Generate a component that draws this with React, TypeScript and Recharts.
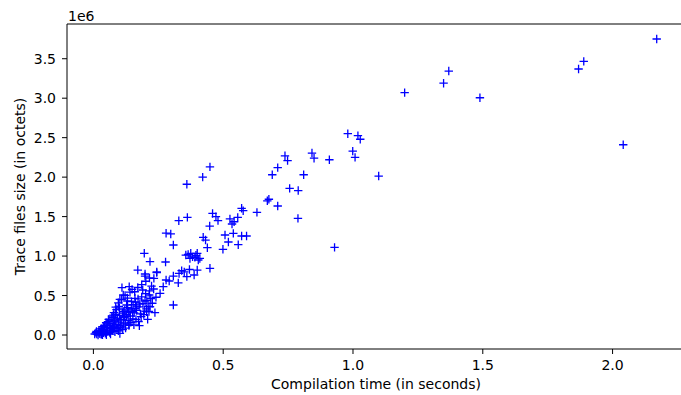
import React from 'react';
import { ScatterChart, Scatter, XAxis, YAxis, ReferenceLine } from 'recharts';

// [compilation time in s, trace size in 1e6 octets]
const upperPoints: [number, number][] = [
  [2.17, 3.75], [1.889, 3.467], [1.869, 3.37], [2.041, 2.41], [1.369, 3.344],
  [1.349, 3.19], [1.199, 3.07], [1.489, 3.006], [0.98, 2.55], [1.019, 2.525],
  [1.028, 2.48], [0.999, 2.33], [1.008, 2.25], [0.909, 2.22], [1.099, 2.014],
  [0.929, 1.11], [0.738, 2.27], [0.748, 2.21], [0.842, 2.305], [0.85, 2.24],
  [0.449, 2.13], [0.421, 2.0], [0.71, 2.12], [0.689, 2.03], [0.81, 2.03],
  [0.756, 1.858], [0.789, 1.83], [0.676, 1.72], [0.67, 1.7], [0.71, 1.634],
  [0.788, 1.478], [0.36, 1.91],
];

const middlePoints: [number, number][] = [
  [0.571, 1.605], [0.577, 1.575], [0.63, 1.554], [0.459, 1.54], [0.472, 1.5],
  [0.48, 1.45], [0.448, 1.38], [0.526, 1.47], [0.542, 1.435], [0.556, 1.49],
  [0.534, 1.406], [0.507, 1.267], [0.539, 1.288], [0.571, 1.254], [0.59, 1.254],
  [0.52, 1.178], [0.558, 1.144], [0.499, 1.086], [0.449, 0.845], [0.423, 1.238],
  [0.432, 1.203], [0.439, 1.106], [0.329, 1.448], [0.362, 1.49], [0.28, 1.29],
  [0.298, 1.28], [0.308, 1.14], [0.196, 1.035], [0.218, 0.93], [0.278, 0.925],
  [0.171, 0.823], [0.199, 0.747], [0.244, 0.8], [0.34, 0.815], [0.308, 0.747],
  [0.356, 1.013], [0.375, 1.035], [0.391, 0.984], [0.4, 1.035], [0.404, 0.95],
  [0.365, 1.02], [0.382, 0.99], [0.395, 1.01], [0.372, 0.97], [0.41, 0.97],
  [0.4, 0.823], [0.388, 0.76], [0.308, 0.38], [0.292, 0.684], [0.35, 0.8],
  [0.37, 0.83], [0.36, 0.74], [0.33, 0.78], [0.327, 0.66], [0.28, 0.697],
  [0.269, 0.612], [0.257, 0.528], [0.233, 0.718], [0.244, 0.79],
];

const lowerPoints: [number, number][] = [
  [0.177, 0.118], [0.209, 0.199], [0.237, 0.283], [0.137, 0.139], [0.11, 0.6],
  [0.138, 0.612], [0.102, 0.452], [0.115, 0.507], [0.167, 0.367], [0.19, 0.57],
  [0.215, 0.507], [0.224, 0.62], [0.199, 0.773], [0.218, 0.358], [0.205, 0.295],
  [0.151, 0.295], [0.128, 0.232], [0.005, 0.013], [0.013, 0.012], [0.032, 0.012],
  [0.051, 0.04], [0.07, 0.063], [0.038, 0.105], [0.057, 0.168], [0.083, 0.19],
  [0.09, 0.085], [0.102, 0.02], [0.077, 0.253], [0.1, 0.34], [0.115, 0.295],
  [0.128, 0.38], [0.147, 0.422], [0.16, 0.465],
  [0.01, 0.03], [0.018, 0.0], [0.022, 0.024], [0.026, 0.052], [0.03, 0.008],
  [0.036, 0.043], [0.041, 0.071], [0.046, 0.022], [0.052, 0.094], [0.055, 0.05],
  [0.061, 0.122], [0.063, 0.031], [0.066, 0.083], [0.072, 0.148], [0.074, 0.058],
  [0.077, 0.112], [0.081, 0.176], [0.083, 0.041], [0.087, 0.133], [0.092, 0.214],
  [0.094, 0.093], [0.097, 0.162], [0.101, 0.247], [0.104, 0.118], [0.107, 0.188],
  [0.112, 0.276], [0.113, 0.069], [0.117, 0.221], [0.121, 0.318], [0.123, 0.152],
  [0.126, 0.262], [0.132, 0.347], [0.134, 0.183], [0.136, 0.298], [0.142, 0.241],
  [0.146, 0.332], [0.152, 0.203], [0.153, 0.384], [0.157, 0.281], [0.162, 0.418],
  [0.166, 0.312], [0.172, 0.458], [0.176, 0.357], [0.181, 0.268], [0.186, 0.483],
  [0.191, 0.401], [0.196, 0.302], [0.201, 0.523], [0.206, 0.437], [0.211, 0.362],
  [0.216, 0.558], [0.221, 0.462], [0.227, 0.402], [0.232, 0.583], [0.241, 0.478],
  [0.031, 0.081], [0.042, 0.121], [0.049, 0.158], [0.059, 0.197], [0.071, 0.238],
  [0.079, 0.283], [0.089, 0.322], [0.098, 0.362], [0.021, 0.061], [0.035, 0.002],
  [0.044, 0.098], [0.054, 0.141], [0.064, 0.179], [0.076, 0.221], [0.086, 0.262],
  [0.096, 0.052], [0.106, 0.102], [0.116, 0.139], [0.124, 0.088], [0.137, 0.121],
  [0.144, 0.161], [0.156, 0.128], [0.164, 0.198], [0.174, 0.171], [0.184, 0.232],
  [0.194, 0.258], [0.204, 0.331], [0.214, 0.298], [0.039, 0.028], [0.025, 0.014],
  [0.012, 0.046], [0.05, 0.003], [0.066, 0.012], [0.082, 0.101], [0.103, 0.198],
  [0.119, 0.242], [0.141, 0.288], [0.161, 0.338], [0.179, 0.392], [0.199, 0.428],
  [0.086, 0.352], [0.096, 0.408], [0.109, 0.448], [0.122, 0.502], [0.131, 0.468],
  [0.141, 0.542], [0.149, 0.578], [0.159, 0.548], [0.171, 0.602], [0.186, 0.638],
  [0.202, 0.681], [0.216, 0.722], [0.131, 0.431],
];

const xTicks = [0, 0.5, 1, 1.5, 2];
const yTicks = [0, 0.5e6, 1e6, 1.5e6, 2e6, 2.5e6, 3e6, 3.5e6];
const xDomain = [-0.1017, 2.279];
const yDomain = [-0.1773e6, 3.94e6];

const rows = [...upperPoints, ...middlePoints, ...lowerPoints].map(([t, s]) => ({
  time: t,
  size: s * 1e6,
}));

const font = 'DejaVu Sans';

const PlusMarker = (props: any) => {
  const { cx, cy } = props;
  if (cx == null || cy == null) return null;
  const r = 4.2;
  return (
    <path
      d={`M${cx - r},${cy}H${cx + r}M${cx},${cy - r}V${cy + r}`}
      stroke="#0000ff"
      strokeWidth={1.3}
      fill="none"
    />
  );
};

export default function App() {
  const tick = { fontSize: 14, fill: '#000', fontFamily: font };
  return (
    <div style={{ position: 'absolute', left: 0, top: 0, width: 681, height: 395, overflow: 'hidden', background: '#fff' }}>
      <ScatterChart width={690} height={395} margin={{ top: 24, right: 5, bottom: 0, left: 0 }}>
        <XAxis
          type="number"
          dataKey="time"
          domain={xDomain}
          allowDataOverflow
          ticks={xTicks}
          tickFormatter={(v: number) => v.toFixed(1)}
          tick={tick}
          tickSize={5}
          tickMargin={6}
          height={46}
          stroke="#000"
          label={{ value: 'Compilation time (in seconds)', position: 'insideBottom', offset: 6, fontSize: 14, fill: '#000', fontFamily: font }}
        />
        <YAxis
          type="number"
          dataKey="size"
          domain={yDomain}
          allowDataOverflow
          ticks={yTicks}
          tickFormatter={(v: number) => (v / 1e6).toFixed(1)}
          tick={tick}
          tickSize={5}
          tickMargin={6}
          width={67}
          stroke="#000"
          label={{ value: 'Trace files size (in octets)', angle: -90, position: 'insideLeft', offset: 20, fontSize: 14, fill: '#000', fontFamily: font, style: { textAnchor: 'middle' } }}
        />
        <ReferenceLine y={yDomain[1]} stroke="#000" strokeWidth={1} ifOverflow="visible" />
        <Scatter data={rows} shape={PlusMarker} isAnimationActive={false} />
      </ScatterChart>
      <div style={{ position: 'absolute', left: 68, top: 9, fontSize: 14, lineHeight: '14px', fontFamily: font, color: '#000' }}>
        1e6
      </div>
    </div>
  );
}
